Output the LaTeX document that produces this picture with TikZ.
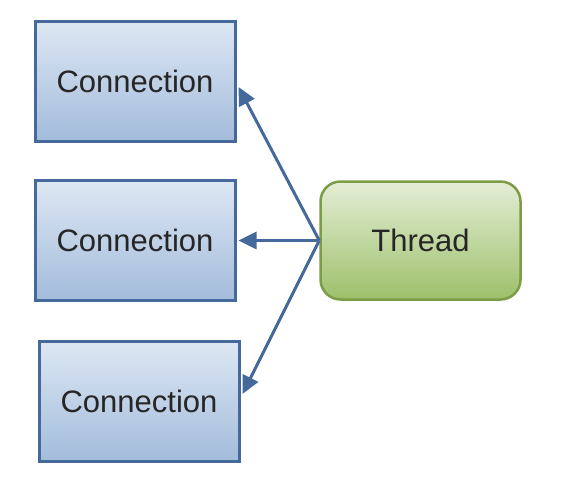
\documentclass[tikz,border=0pt]{standalone}
\usepackage{fontspec}
\setmainfont{Liberation Sans}
\usetikzlibrary{arrows.meta}
\definecolor{connTop}{HTML}{DDE7F3}
\definecolor{connBottom}{HTML}{A3BCDB}
\definecolor{connLine}{HTML}{44699A}
\definecolor{threadTop}{HTML}{E4EDD6}
\definecolor{threadBottom}{HTML}{9DC06A}
\definecolor{threadLine}{HTML}{7C9C45}
\begin{document}
\begin{tikzpicture}[x=1pt, y=-1pt,
  connbox/.style={draw=connLine, line width=3pt, top color=connTop, bottom color=connBottom,
    minimum width=200pt, minimum height=120pt, font=\fontsize{31}{37}\selectfont, text=black!85},
  threadbox/.style={draw=threadLine, line width=2.5pt, top color=threadTop, bottom color=threadBottom,
    rounded corners=20pt, minimum width=200pt, minimum height=118pt, font=\fontsize{31}{37}\selectfont, text=black!85},
  link/.style={draw=connLine, line width=3pt, -{Triangle[length=18pt,width=17pt]}}]
\useasboundingbox (0,0) rectangle (572,488);
\node[connbox] (conn1) at (135,81) {Connection};
\node[connbox] (conn2) at (135,240.5) {Connection};
\node[connbox] (conn3) at (139,401) {Connection};
\node[threadbox] (thread) at (420.5,240.5) {Thread};
\draw[link] (thread.west) -- ([xshift=2pt,yshift=-6pt]conn1.east);
\draw[link] (thread.west) -- ([xshift=2pt]conn2.east);
\draw[link] (thread.west) -- ([xshift=2pt,yshift=7pt]conn3.east);
\end{tikzpicture}
\end{document}
